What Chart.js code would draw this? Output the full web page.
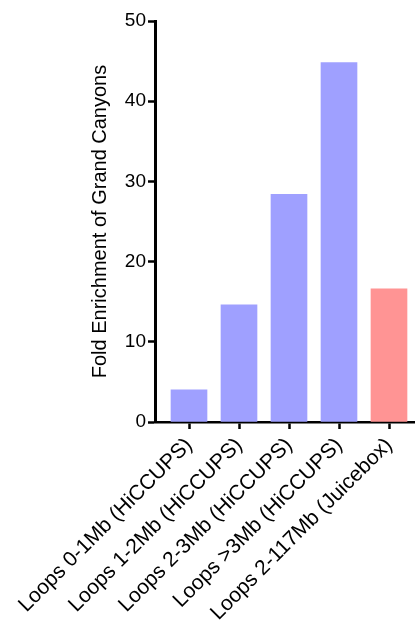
<!DOCTYPE html>
<html>
<head>
<meta charset="utf-8">
<script src="https://cdn.jsdelivr.net/npm/chart.js@4.4.1/dist/chart.umd.min.js"></script>
<style>
  html, body { margin: 0; padding: 0; background: #fff; }
  #wrap { width: 415px; height: 625px; }
</style>
</head>
<body>
<div id="wrap"><canvas id="c" width="415" height="625"></canvas></div>
<script>
// Loop categories and their fold enrichment of Grand Canyons
const categories = [
  'Loops 0-1Mb (HiCCUPS)',
  'Loops 1-2Mb (HiCCUPS)',
  'Loops 2-3Mb (HiCCUPS)',
  'Loops >3Mb (HiCCUPS)',
  'Loops 2-117Mb (Juicebox)'
];
const foldEnrichment = [4.0, 14.6, 28.4, 44.8, 16.6];
const barColors = ['#9fa0ff', '#9fa0ff', '#9fa0ff', '#9fa0ff', '#ff9494'];
const yTicks = [0, 10, 20, 30, 40, 50];
const yTitle = 'Fold Enrichment of Grand Canyons';

const FONT = 'Liberation Sans, Arial, Helvetica, sans-serif';

new Chart(document.getElementById('c'), {
  type: 'bar',
  data: {
    datasets: [{
      data: foldEnrichment.map((v, i) => ({ x: i, y: v })),
      backgroundColor: barColors,
      borderWidth: 0,
      barThickness: 36
    }]
  },
  options: {
    responsive: false,
    animation: false,
    devicePixelRatio: 1,
    layout: { padding: { top: 21, right: 0, left: 0, bottom: 0 } },
    plugins: { legend: { display: false }, tooltip: { enabled: false } },
    scales: {
      x: {
        type: 'linear',
        min: -0.68,
        max: 4.52,
        offset: false,
        grid: {
          offset: false,
          drawOnChartArea: false,
          drawTicks: true,
          tickLength: 7,
          tickWidth: 2.5,
          tickColor: '#000'
        },
        border: { display: true, color: '#000', width: 2.5 },
        afterBuildTicks: (scale) => {
          scale.ticks = categories.map((_, i) => ({ value: i }));
        },
        afterFit: (scale) => {
          scale.height = 625 - 422;
          scale.paddingLeft = 0;
          scale.paddingRight = 0;
        },
        ticks: {
          autoSkip: false,
          minRotation: 45,
          maxRotation: 45,
          padding: 4,
          color: '#000',
          font: { family: FONT, size: 21 },
          callback: (v) => categories[v]
        }
      },
      y: {
        type: 'linear',
        min: 0,
        max: 50,
        afterBuildTicks: (scale) => {
          scale.ticks = yTicks.map(v => ({ value: v }));
        },
        afterFit: (scale) => { scale.width = 155; },
        grid: {
          drawOnChartArea: false,
          drawTicks: true,
          tickLength: 7,
          tickWidth: 2.5,
          tickColor: '#000'
        },
        border: { display: true, color: '#000', width: 3 },
        ticks: {
          padding: 2,
          color: '#000',
          font: { family: FONT, size: 19 }
        },
        title: {
          display: true,
          text: yTitle,
          color: '#000',
          font: { family: FONT, size: 20 },
          padding: { top: 88, bottom: 0 }
        }
      }
    }
  }
});
</script>
</body>
</html>
